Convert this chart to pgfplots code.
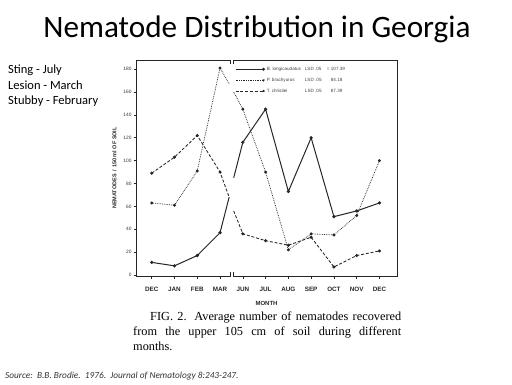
\documentclass[border=0pt]{standalone}
\usepackage{fontspec}
\setmainfont{Carlito}
\setsansfont{Liberation Sans}
\newfontfamily\capfont{Liberation Serif}
\usepackage{pgfplots}
\pgfplotsset{compat=1.18}
\begin{document}
\begin{tikzpicture}[x=1pt,y=1pt]
\useasboundingbox (0,0) rectangle (512,384);
\node[font=\fontsize{31.2}{36}\selectfont] at (257,355) {Nematode Distribution in Georgia};
\node[anchor=north west, align=left, inner sep=0pt, font=\fontsize{12.5}{15.5}\selectfont] at (8,319) {Sting - July\\Lesion - March\\Stubby - February};
\begin{axis}[at={(136pt,108pt)}, anchor=south west, scale only axis,
  width=261pt, height=216pt,
  xmin=-0.69, xmax=10.77, ymin=-0.9, ymax=188,
  axis line style={line width=0.9pt, black!85},
  xtick={0,1,2,3,4,5,6,7,8,9,10},
  xticklabels={DEC,JAN,FEB,MAR,JUN,JUL,AUG,SEP,OCT,NOV,DEC},
  ytick={0,20,40,60,80,100,120,140,160,180},
  tick align=outside, tick pos=left, major tick length=2.5pt,
  tick style={black!85, line width=0.6pt},
  /pgf/number format/assume math mode=true,
  yticklabel style={font=\sffamily\fontsize{4.8}{5}\selectfont, black!80, xshift=1.5pt},
  xticklabel style={font=\sffamily\bfseries\fontsize{6.3}{7}\selectfont, black!85, yshift=-5.5pt},
  xlabel={MONTH}, xlabel style={font=\sffamily\bfseries\fontsize{6}{7}\selectfont, black!85, yshift=-2.5pt},
  ylabel={NEMATODES \,/\, 150 ml OF SOIL}, ylabel style={font=\sffamily\bfseries\fontsize{5.5}{6}\selectfont, black!85, yshift=0pt},
  legend style={at={(axis cs:3.65,184)}, anchor=north west, draw=none, fill=none,
     font=\sffamily\fontsize{4.6}{5}\selectfont, row sep=2.2pt, inner sep=0pt, text=black!75},
  legend cell align=left,
  legend image code/.code={\draw[#1, mark=none] (0pt,0pt) -- (28pt,0pt); \fill[black!85] (28pt,0pt) circle (0.9pt);},
  every axis plot/.append style={black!85, mark=*, mark size=1.1pt, mark options={solid, fill=black!85}},
]
% B. longicaudatus (solid)
\addplot[line width=1pt, mark indices={1,2,3,4}] coordinates {(0,11) (1,8) (2,17) (3,37) (3.4,68)};
\addlegendentry{\makebox[38pt][l]{B. longicaudatus}\makebox[22pt][l]{LSD .05}= 107.39}
\addplot[line width=1pt, mark indices={2,3,4,5,6,7,8}, forget plot] coordinates {(3.6,85) (4,116) (5,145) (6,73) (7,120) (8,51) (9,56) (10,63)};
% P. brachyurus (dotted)
\addplot[line width=0.75pt, densely dotted, mark indices={1,2,3,4}] coordinates {(0,63) (1,61) (2,91) (3,181) (3.4,167)};
\addlegendentry{\makebox[38pt][l]{P. brachyurus}\makebox[22pt][l]{LSD .05}\phantom{= }84.18}
\addplot[line width=0.75pt, densely dotted, mark indices={2,3,4,5,6,7,8}, forget plot] coordinates {(3.6,160) (4,145) (5,90) (6,22) (7,36) (8,35) (9,52) (10,100)};
% T. christiei (dashed)
\addplot[line width=0.85pt, dash pattern=on 3pt off 1.8pt, mark indices={1,2,3,4}] coordinates {(0,89) (1,103) (2,122) (3,90) (3.4,68)};
\addlegendentry{\makebox[38pt][l]{T. christiei}\makebox[22pt][l]{LSD .05}\phantom{= }87.39}
\addplot[line width=0.85pt, dash pattern=on 3pt off 1.8pt, mark indices={2,3,4,5,6,7,8}, forget plot] coordinates {(3.6,56) (4,36) (5,30) (6,26) (7,33) (8,7) (9,17) (10,21)};
% axis break
\fill[white] (axis cs:3.43,186) rectangle (axis cs:3.57,190);
\fill[white] (axis cs:3.43,-3) rectangle (axis cs:3.57,1);
\draw[black!85, line width=0.6pt] (axis cs:3.43,184.5) -- (axis cs:3.43,191.5);
\draw[black!85, line width=0.6pt] (axis cs:3.57,184.5) -- (axis cs:3.57,191.5);
\draw[black!85, line width=0.6pt] (axis cs:3.43,-3.5) -- (axis cs:3.43,2.5);
\draw[black!85, line width=0.6pt] (axis cs:3.57,-3.5) -- (axis cs:3.57,2.5);
\end{axis}
\node[anchor=north west, inner sep=0pt, text width=268pt, align=justify,
  font=\capfont\fontsize{12.3}{15}\selectfont] at (133,72)
  {\hspace*{17pt}FIG. 2. Average number of nematodes recovered\linebreak from the upper 105 cm of soil during different\linebreak months.};
\node[anchor=west, inner sep=0pt, font=\itshape\fontsize{9.3}{10}\selectfont, black!80] at (5,8) {Source:\ \ B.B. Brodie.\ \ 1976.\ \ Journal of Nematology 8:243-247.};
\end{tikzpicture}
\end{document}
